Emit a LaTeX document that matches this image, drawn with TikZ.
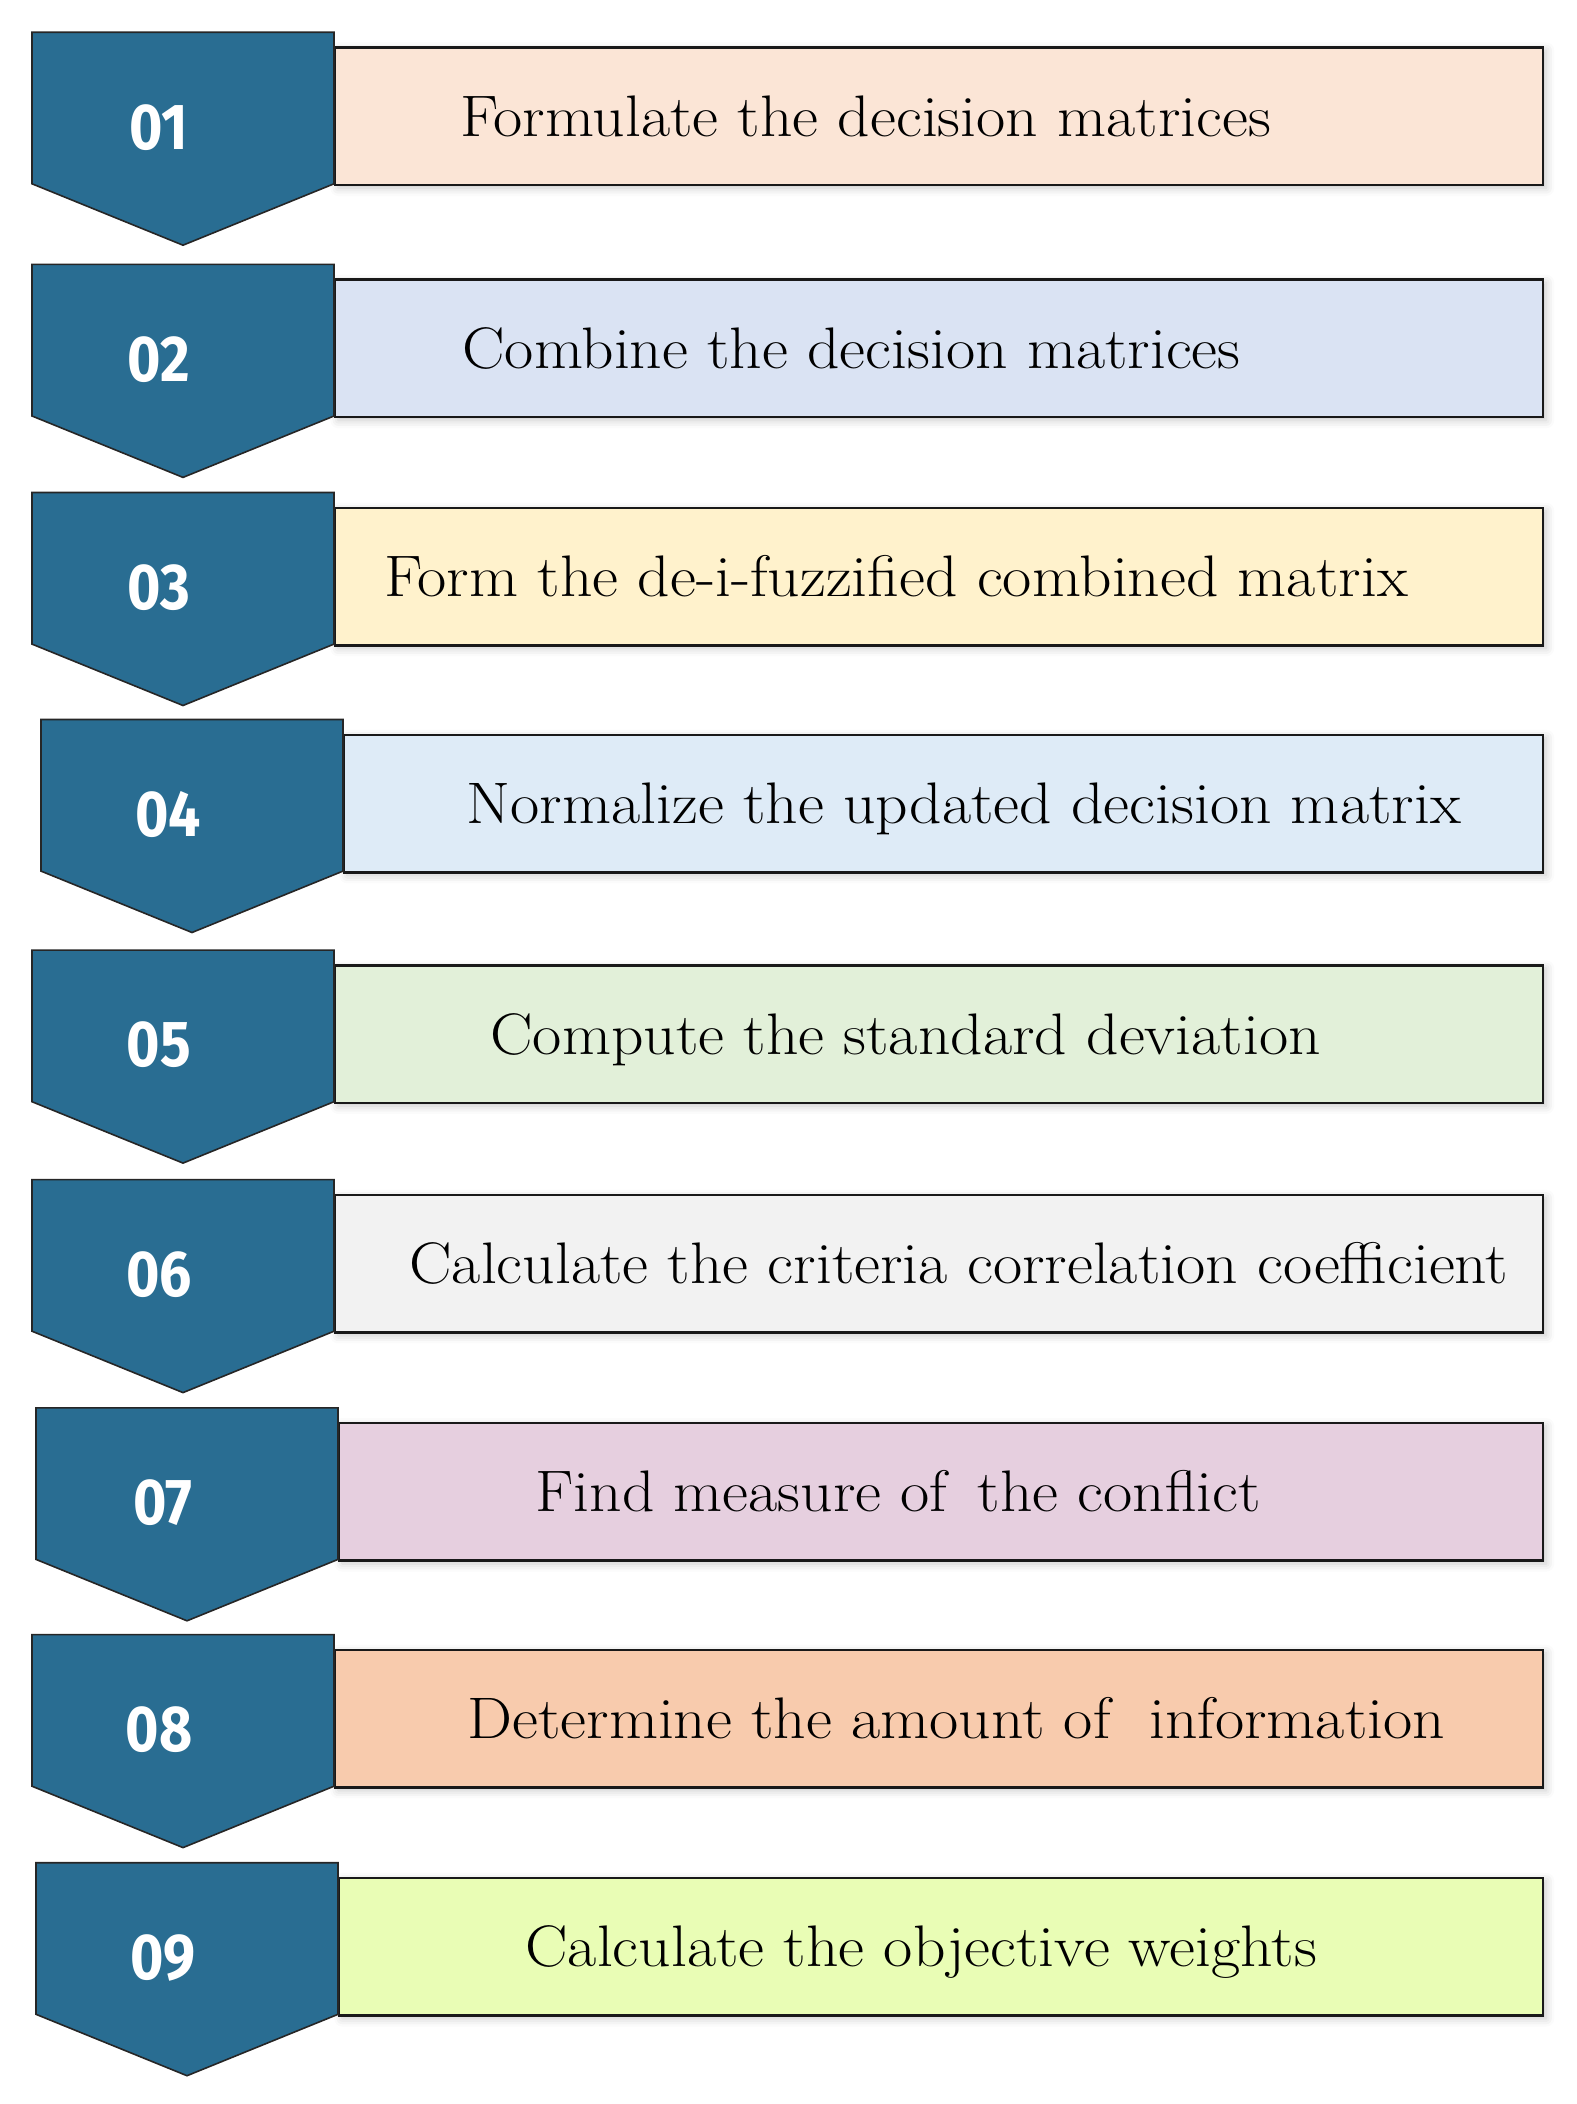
\documentclass[tikz,border=0pt]{standalone}
\usepackage{fontspec}
\newfontfamily\numfont{Fira Sans}
\usetikzlibrary{shadows.blur}
\definecolor{chev}{HTML}{296D92}
\definecolor{cA}{HTML}{FBE5D6}
\definecolor{cB}{HTML}{DAE3F3}
\definecolor{cC}{HTML}{FFF2CC}
\definecolor{cD}{HTML}{DEEBF7}
\definecolor{cE}{HTML}{E2F0D9}
\definecolor{cF}{HTML}{F2F2F2}
\definecolor{cG}{HTML}{E6CFDF}
\definecolor{cH}{HTML}{F8CBAD}
\definecolor{cI}{HTML}{E9FDB5}
\begin{document}
\begin{tikzpicture}[x=0.5pt,y=-0.5pt,
  boxstyle/.style={draw=black!90, line width=1.2pt, rectangle, inner sep=0pt,
    minimum height=68.8pt, anchor=north west,
    blur shadow={shadow xshift=1.5pt, shadow yshift=-1.5pt, shadow blur radius=4pt, shadow opacity=22}},
  chevstyle/.style={draw=black!85, line width=0.8pt, fill=chev, line join=miter},
  numstyle/.style={text=white, inner sep=0pt, font=\numfont\bfseries\fontsize{32.5}{38}\selectfont},
  txtstyle/.style={text=black, inner sep=0pt, anchor=base west, font=\fontsize{29.3}{35}\selectfont}]
\useasboundingbox (0,0) rectangle (1577,2104);
\foreach \n/\t/\d/\col/\tx/\txt in {
  01/32.2/0/cA/460/{Formulate the decision matrices},
  02/264.4/0/cB/462/{Combine the decision matrices},
  03/492.5/0/cC/384/{Form the de-i-fuzzified combined matrix},
  04/719.5/9/cD/466/{Normalize the updated decision matrix},
  05/950.1/0/cE/490/{Compute the standard deviation},
  06/1179.6/0/cF/409/{Calculate the criteria correlation coefficient},
  07/1407.8/4/cG/535/{Find measure of\hspace{14pt}the conflict},
  08/1634.6/0/cH/467/{Determine the amount of\ \ information},
  09/1862.7/4/cI/525/{Calculate the objective weights}}{
  \pgfmathsetmacro\L{32+\d}
  \pgfmathsetmacro\R{334+\d}
  \pgfmathsetmacro\W{(1542-\R)*0.5}
  \node[boxstyle, fill=\col, minimum width=\W pt] (b\n) at (\R,\t+14) {};
  \draw[chevstyle] (\L,\t) -- (\R,\t) -- (\R,\t+151.6) -- (\L+151,\t+213) -- (\L,\t+151.6) -- cycle;
  \node[numstyle] (n\n) at (\L+127,\t+95) {\scalebox{0.88}[1]{\n}};
  \node[txtstyle] (t\n) at (\tx,\t+104) {\scalebox{1.085}[1]{\txt}};
}
\end{tikzpicture}
\end{document}
